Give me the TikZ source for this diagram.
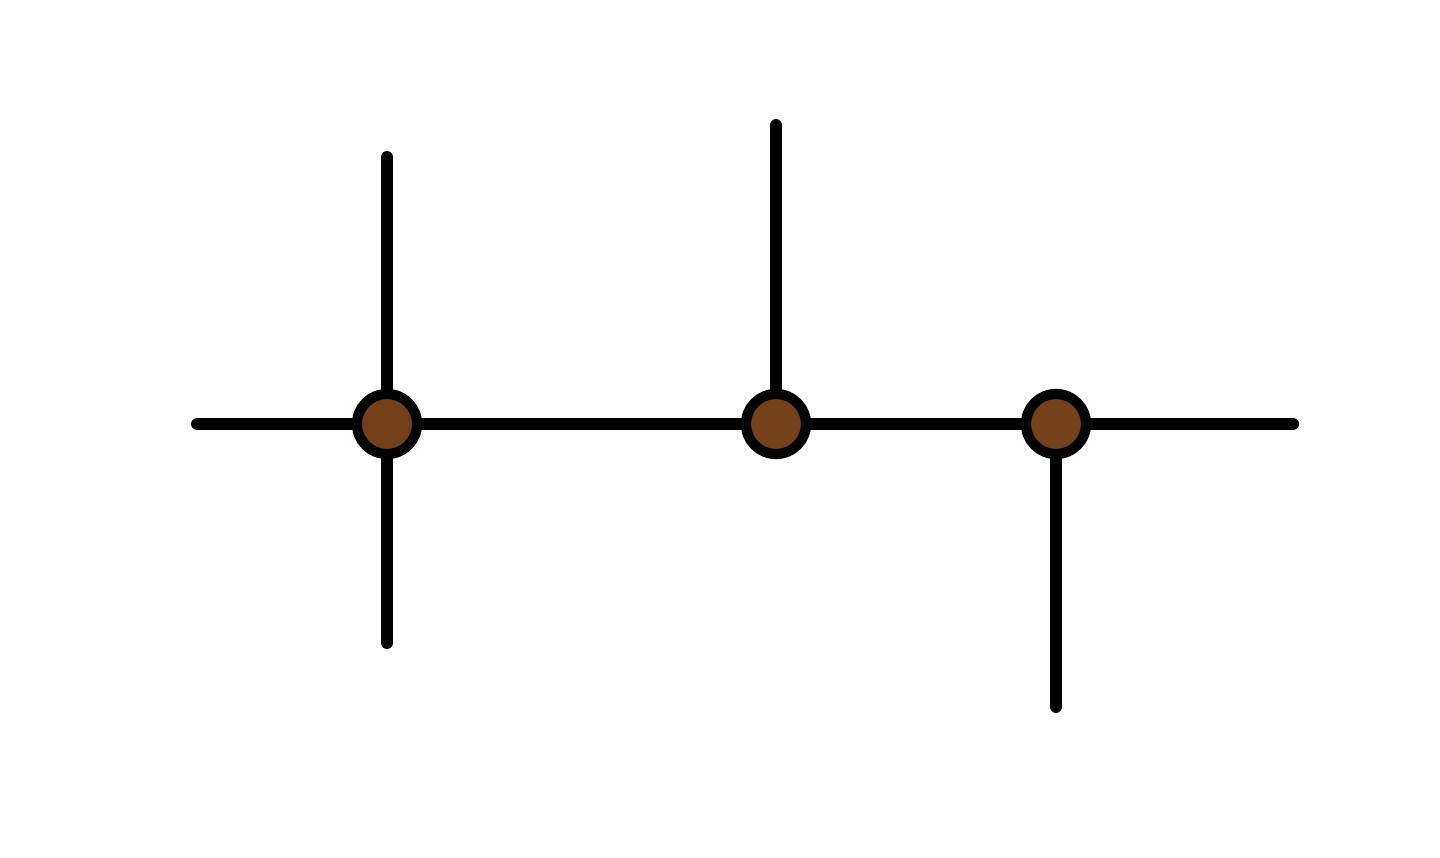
\documentclass[tikz,border=0pt]{standalone}
\usetikzlibrary{positioning}
\definecolor{junctionbrown}{HTML}{74401A}
\begin{document}
\begin{tikzpicture}[x=0.01cm, y=-0.01cm]

% Define styles
\tikzstyle{junction} = [circle, draw=black, line width=2.9pt, fill=junctionbrown, inner sep=0pt, minimum size=0.6cm]
\tikzstyle{wire} = [line width=3.4pt, draw=black, line cap=round]

\useasboundingbox (0,0) rectangle (1440,858);

% Define free ends
\coordinate (leftEnd) at (197,424);
\coordinate (rightEnd) at (1293,424);
\coordinate (firstTop) at (387,157);
\coordinate (firstBottom) at (387,643);
\coordinate (secondTop) at (776,125);
\coordinate (thirdBottom) at (1056,707);

% Define nodes (junctions)
\node[junction] (firstJunction) at (387,424) {};
\node[junction] (secondJunction) at (776,424) {};
\node[junction] (thirdJunction) at (1056,424) {};

% Wires
\draw[wire] (leftEnd) -- (firstJunction);
\draw[wire] (firstJunction) -- (secondJunction);
\draw[wire] (secondJunction) -- (thirdJunction);
\draw[wire] (thirdJunction) -- (rightEnd);

\draw[wire] (firstTop) -- (firstJunction);
\draw[wire] (firstJunction) -- (firstBottom);
\draw[wire] (secondTop) -- (secondJunction);
\draw[wire] (thirdJunction) -- (thirdBottom);

\end{tikzpicture}
\end{document}
